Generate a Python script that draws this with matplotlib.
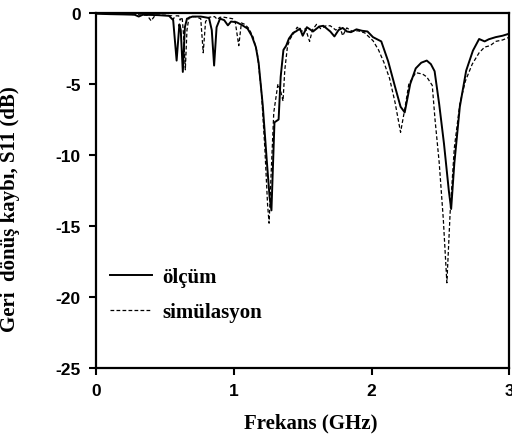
import matplotlib
matplotlib.use("Agg")
import matplotlib.pyplot as plt

# measured S11 (olcum)
meas_f = [0.00, 0.10, 0.20, 0.28, 0.31, 0.34, 0.45, 0.53, 0.56, 0.585, 0.605, 0.615, 0.630,
          0.645, 0.66, 0.70, 0.76, 0.82, 0.84, 0.857, 0.875, 0.90, 0.93, 0.957, 0.98, 1.02,
          1.06, 1.10, 1.13, 1.16, 1.18, 1.21, 1.24, 1.26, 1.273, 1.285, 1.295, 1.31, 1.325,
          1.34, 1.36, 1.38, 1.40, 1.43, 1.45, 1.48, 1.50, 1.53, 1.575, 1.62, 1.65, 1.70,
          1.73, 1.76, 1.79, 1.82, 1.85, 1.89, 1.93, 1.97, 2.01, 2.07, 2.12, 2.17, 2.21,
          2.24, 2.28, 2.32, 2.36, 2.40, 2.43, 2.457, 2.49, 2.525, 2.56, 2.577, 2.60, 2.64,
          2.686, 2.735, 2.78, 2.82, 2.85, 2.90, 2.95, 3.00]
meas_s = [-0.05, -0.08, -0.10, -0.12, -0.25, -0.12, -0.15, -0.20, -0.5, -3.35, -0.8, -1.2, -4.15,
          -1.0, -0.4, -0.25, -0.25, -0.35, -1.2, -3.7, -1.0, -0.4, -0.5, -0.87, -0.6, -0.65,
          -0.85, -1.1, -1.6, -2.4, -3.5, -6.5, -10.5, -13.0, -13.9, -10.5, -7.7, -7.6, -7.5,
          -4.5, -2.6, -2.3, -1.8, -1.4, -1.3, -1.1, -1.6, -1.0, -1.3, -0.95, -0.9, -1.3,
          -1.65, -1.2, -1.05, -1.3, -1.35, -1.15, -1.25, -1.3, -1.7, -2.0, -3.4, -5.2, -6.6,
          -7.0, -5.0, -3.9, -3.5, -3.35, -3.6, -4.1, -6.4, -9.2, -12.5, -13.8, -10.6, -6.6,
          -4.06, -2.65, -1.83, -2.0, -1.85, -1.7, -1.6, -1.45]

# simulated S11 (simulasyon)
sim_f = [0.00, 0.10, 0.20, 0.30, 0.37, 0.40, 0.43, 0.50, 0.55, 0.56, 0.575, 0.60, 0.61, 0.625,
         0.635, 0.648, 0.66, 0.675, 0.72, 0.76, 0.778, 0.795, 0.82, 0.86, 0.88, 0.90, 0.93,
         0.96, 0.99, 1.01, 1.036, 1.055, 1.08, 1.11, 1.14, 1.17, 1.20, 1.225, 1.245, 1.256,
         1.27, 1.29, 1.32, 1.34, 1.357, 1.37, 1.39, 1.41, 1.43, 1.46, 1.49, 1.52, 1.55, 1.57,
         1.60, 1.63, 1.67, 1.70, 1.74, 1.77, 1.79, 1.82, 1.86, 1.90, 1.95, 2.01, 2.05, 2.09,
         2.13, 2.17, 2.21, 2.24, 2.27, 2.32, 2.37, 2.40, 2.44, 2.46, 2.49, 2.52, 2.546, 2.57,
         2.60, 2.64, 2.68, 2.73, 2.78, 2.82, 2.86, 2.90, 2.95, 3.00]
sim_s = [-0.02, -0.05, -0.08, -0.12, -0.15, -0.55, -0.15, -0.15, -0.2, -0.45, -0.2, -0.2, -0.5,
         -0.3, -1.5, -4.0, -1.2, -0.3, -0.25, -0.4, -2.8, -0.6, -0.3, -0.25, -0.45, -0.3, -0.3,
         -0.35, -0.4, -0.6, -2.3, -0.7, -0.8, -1.1, -1.7, -2.8, -5.5, -9.5, -13.5, -14.8,
         -11.5, -7.0, -5.0, -5.5, -6.2, -4.0, -2.3, -1.8, -1.5, -1.0, -1.3, -1.1, -2.0, -1.2,
         -0.8, -1.1, -0.9, -0.9, -1.2, -1.0, -1.6, -1.05, -1.3, -1.25, -1.4, -1.95, -2.6, -3.5,
         -4.6, -6.3, -8.4, -6.8, -5.0, -4.2, -4.3, -4.5, -5.1, -7.5, -10.5, -14.5, -19.0, -14.0,
         -9.5, -6.4, -4.8, -3.6, -2.8, -2.4, -2.3, -2.0, -1.9, -1.7]

x_ticks = [0, 1, 2, 3]
y_ticks = [-25, -20, -15, -10, -5, 0]

plt.rcParams["axes.unicode_minus"] = False
serif = {"family": "Liberation Serif", "weight": "bold", "size": 15}

fig = plt.figure(figsize=(5.12, 4.35), dpi=100)
ax = fig.add_axes([0.1875, 0.1517, 0.8075, 0.8161])

ax.plot(meas_f, meas_s, color="black", lw=1.4, label="ölçüm")
ax.plot(sim_f, sim_s, color="black", lw=0.9, dashes=(3, 1.8), label="simülasyon")

ax.set_xlim(0, 3)
ax.set_ylim(-25, 0)
ax.set_xticks(x_ticks)
ax.set_yticks(y_ticks)
for lab in ax.get_xticklabels() + ax.get_yticklabels():
    lab.set_fontfamily("Liberation Sans")
    lab.set_fontweight("bold")
    lab.set_fontsize(12.5)
ax.tick_params(direction="out", length=5, width=1.5, pad=6)
for sp in ax.spines.values():
    sp.set_linewidth(1.6)

ax.set_xlabel("Frekans (GHz)", fontdict=serif)
ax.set_ylabel("Geri  dönüş kaybı, S11 (dB)", fontdict=serif)
ax.xaxis.set_label_coords(0.52, -0.125)
ax.yaxis.set_label_coords(-0.185, 0.45)

ax.legend(loc="upper left", bbox_to_anchor=(0.035, 0.285), frameon=False,
          prop={"family": "Liberation Serif", "weight": "bold", "size": 15},
          handlelength=2.0, handletextpad=0.5, labelspacing=0.75,
          borderpad=0, borderaxespad=0)

fig.savefig("out.png", dpi=100, facecolor="white")
